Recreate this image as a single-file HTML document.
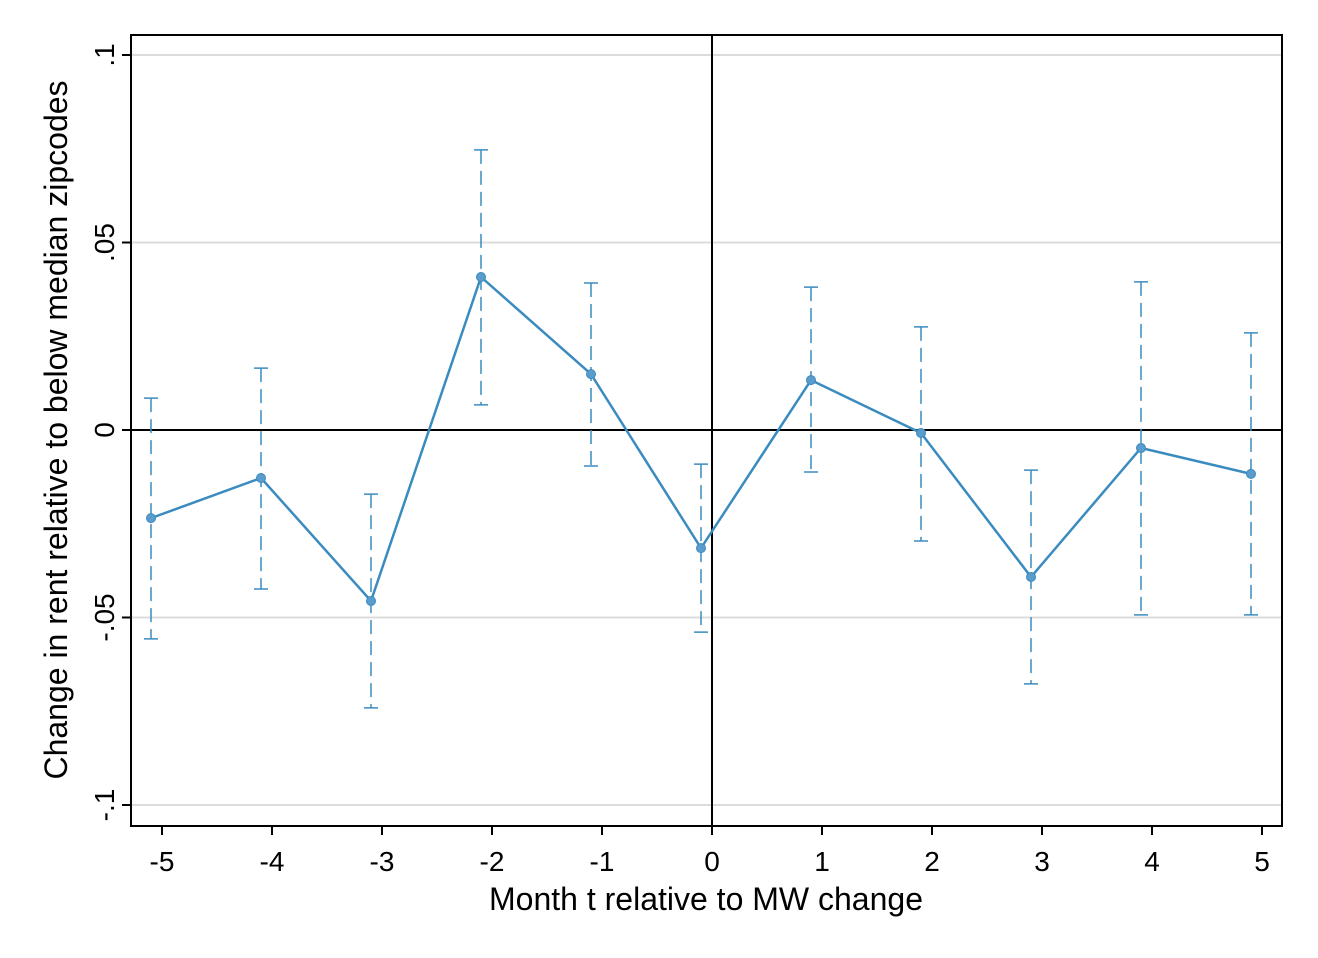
<!DOCTYPE html>
<html><head><meta charset="utf-8"><style>
html,body{margin:0;padding:0;background:#fff;}
svg{display:block;font-family:"Liberation Sans",Arial,sans-serif;}
</style></head><body>
<svg id="chart" width="1318" height="958">
<g id="grid"></g><g id="axes"></g><g id="marks"></g>
<text x="706" y="910" font-size="32" text-anchor="middle">Month t relative to MW change</text>
<text transform="translate(67,430) rotate(-90)" font-size="32" text-anchor="middle">Change in rent relative to below median zipcodes</text>
</svg>
<script>
const months=[-5,-4,-3,-2,-1,0,1,2,3,4,5];
const estimates=[-0.0235,-0.0128,-0.0456,0.0408,0.0149,-0.0315,0.0133,-0.0008,-0.0392,-0.0048,-0.0117];
const ciUpper=[0.0085,0.0165,-0.0171,0.0747,0.0392,-0.0091,0.0381,0.0275,-0.0107,0.0395,0.0259];
const ciLower=[-0.0557,-0.0424,-0.0741,0.0067,-0.0096,-0.0539,-0.0112,-0.0296,-0.0677,-0.0493,-0.0493];
const yTicks=[0.1,0.05,0,-0.05,-0.1];
const yTickLabels=[".1",".05","0","-.05","-.1"];
const xTicks=[-5,-4,-3,-2,-1,0,1,2,3,4,5];
const xShift=-0.1;
const L=131,R=1282,T=35,B=826;
const xs=v=>712+v*110;
const ys=v=>430-v*3750;
const NS="http://www.w3.org/2000/svg";
function mk(tag,parent,attrs){const e=document.createElementNS(NS,tag);for(const k in attrs)e.setAttribute(k,attrs[k]);parent.appendChild(e);return e;}
const grid=document.getElementById('grid'),axes=document.getElementById('axes'),marks=document.getElementById('marks');
mk('rect',axes,{x:L,y:T,width:R-L,height:B-T,fill:'none',stroke:'#000','stroke-width':2});
yTicks.forEach((v,i)=>{
  if(v!==0){const g=mk('line',grid,{x1:L,x2:R,y1:ys(v),y2:ys(v),stroke:'#dcdcdc','stroke-width':2});
  
  }
  mk('line',axes,{x1:L-9,x2:L,y1:ys(v),y2:ys(v),stroke:'#000','stroke-width':2});
  const t=mk('text',axes,{transform:`translate(${L-17},${ys(v)}) rotate(-90)`,'font-size':28,'text-anchor':'middle'});
  t.textContent=yTickLabels[i];
  
  
});
xTicks.forEach(v=>{
  mk('line',axes,{x1:xs(v),x2:xs(v),y1:B,y2:B+9,stroke:'#000','stroke-width':2});
  const t=mk('text',axes,{x:xs(v),y:B+45,'font-size':28,'text-anchor':'middle'});
  t.textContent=String(v);
  
  
});
mk('line',axes,{x1:L,x2:R,y1:ys(0),y2:ys(0),stroke:'#000','stroke-width':2});
mk('line',axes,{x1:xs(0),x2:xs(0),y1:T,y2:B,stroke:'#000','stroke-width':2});
const col='#3a8bbf';
months.forEach((m,i)=>{
  const x=xs(m+xShift);
  const g=mk('g',marks,{});
  
  
  mk('line',g,{x1:x,x2:x,y1:ys(ciUpper[i]),y2:ys(ciLower[i]),stroke:col,'stroke-width':1.5,'stroke-dasharray':'14,7'});
  mk('line',g,{x1:x-7,x2:x+7,y1:ys(ciUpper[i]),y2:ys(ciUpper[i]),stroke:col,'stroke-width':1.5});
  mk('line',g,{x1:x-7,x2:x+7,y1:ys(ciLower[i]),y2:ys(ciLower[i]),stroke:col,'stroke-width':1.5});
});
const pl=mk('polyline',marks,{points:months.map((m,i)=>xs(m+xShift)+','+ys(estimates[i])).join(' '),fill:'none',stroke:col,'stroke-width':2.5});


months.forEach((m,i)=>{
  const c=mk('circle',marks,{cx:xs(m+xShift),cy:ys(estimates[i]),r:4.5,fill:'#5a9ccb',stroke:col});
  
  
});
</script>
</body></html>
